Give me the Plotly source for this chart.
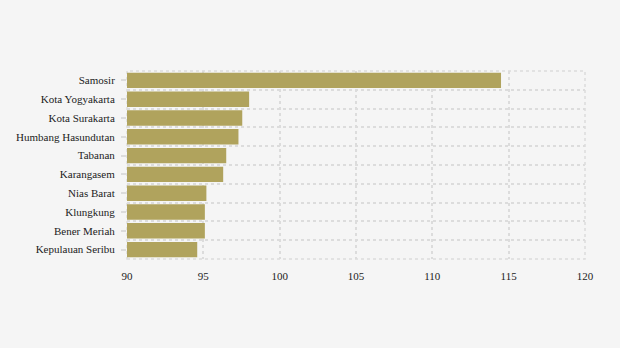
import plotly.graph_objects as go

# Regions and their values, listed top to bottom
regions = [
    "Samosir",
    "Kota Yogyakarta",
    "Kota Surakarta",
    "Humbang Hasundutan",
    "Tabanan",
    "Karangasem",
    "Nias Barat",
    "Klungkung",
    "Bener Meriah",
    "Kepulauan Seribu",
]
values = [114.5, 98.0, 97.55, 97.3, 96.5, 96.3, 95.2, 95.1, 95.1, 94.6]

x_ticks = [90, 95, 100, 105, 110, 115, 120]

positions = list(range(len(regions)))
boundaries = [p - 0.5 for p in positions] + [positions[-1] + 0.5]

bar_color = "#b0a35d"
grid_color = "#dcdcdc"
font_family = "Liberation Serif, Times New Roman, serif"

fig = go.Figure(
    go.Bar(
        x=values,
        y=positions,
        orientation="h",
        marker=dict(color=bar_color, line=dict(width=0)),
        width=0.82,
        hovertemplate="%{customdata}: %{x}<extra></extra>",
        customdata=regions,
    )
)

fig.update_layout(
    width=620,
    height=348,
    margin=dict(l=127, r=35, t=71, b=89),
    paper_bgcolor="#f5f5f5",
    plot_bgcolor="#f5f5f5",
    font=dict(family=font_family, size=11, color="#222222"),
    showlegend=False,
    # dotted frame around the plotting area, continuing the grid at its edges
    shapes=[
        dict(
            type="rect",
            xref="paper",
            yref="paper",
            x0=0,
            x1=1,
            y0=0,
            y1=1,
            line=dict(color=grid_color, width=1.5, dash="dot"),
            layer="below",
        )
    ],
)

fig.update_xaxes(
    range=[x_ticks[0], x_ticks[-1]],
    tickvals=x_ticks,
    showgrid=True,
    gridcolor=grid_color,
    griddash="dot",
    gridwidth=1.5,
    zeroline=False,
    showline=False,
    ticks="",
    ticklabelstandoff=9,
    tickfont=dict(size=11, color="#222222"),
)

fig.update_yaxes(
    range=[positions[-1] + 0.5, positions[0] - 0.5],
    tickvals=positions,
    ticktext=regions,
    showgrid=False,
    zeroline=False,
    showline=False,
    ticks="outside",
    ticklen=5,
    tickcolor=grid_color,
    tickwidth=1.5,
    ticklabelstandoff=4,
    tickfont=dict(size=11, color="#222222"),
    minor=dict(
        tickvals=boundaries,
        showgrid=True,
        gridcolor=grid_color,
        griddash="dot",
        gridwidth=1.5,
        ticks="",
    ),
)

fig.write_html("out.html")
